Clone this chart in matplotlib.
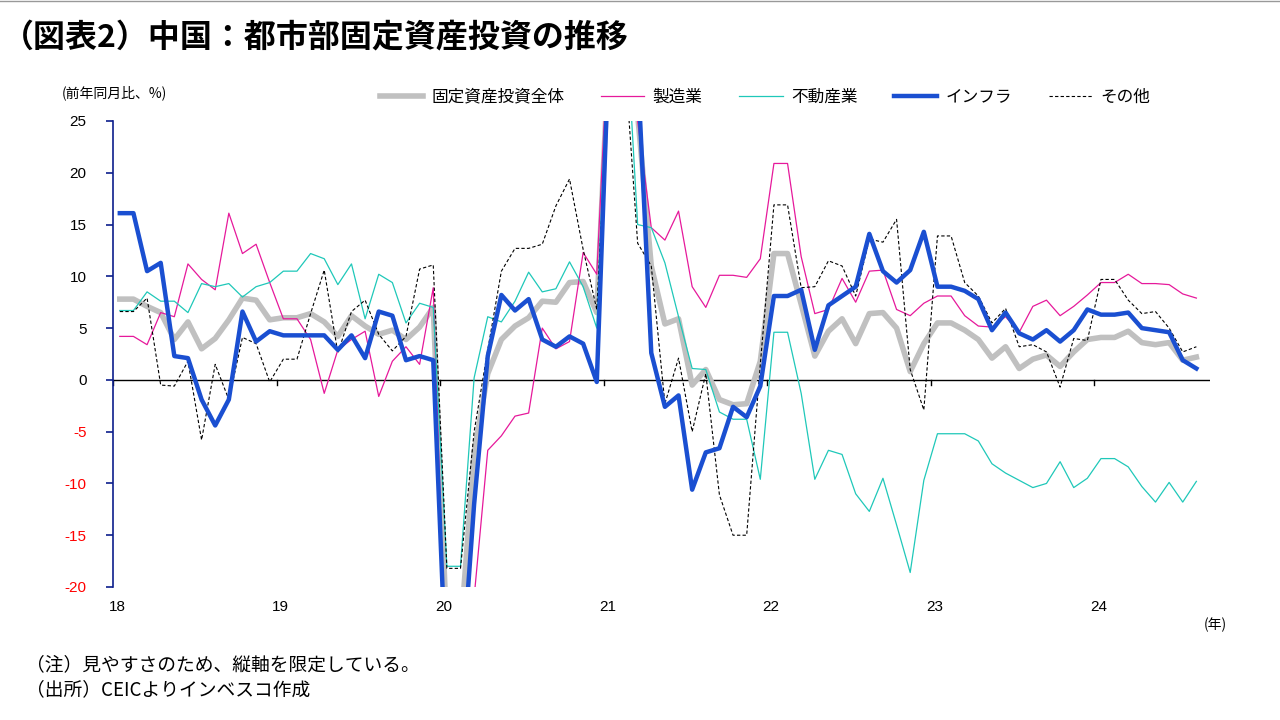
import matplotlib
matplotlib.use("Agg")
import matplotlib.pyplot as plt
import numpy as np

plt.rcParams['font.family'] = ['Noto Sans CJK JP']

year_labels = ["18", "19", "20", "21", "22", "23", "24"]
total = [7.8,7.8,7.1,6.5,3.9,5.6,3.0,4.0,5.8,7.9,7.7,5.8,
         6.0,6.0,6.4,5.6,4.2,6.2,5.2,4.4,4.8,3.9,5.1,7.0,
         -24.5,-24.5,-7.0,0.6,3.9,5.2,6.0,7.6,7.5,9.4,9.5,6.5,
         35.0,35.0,25.6,11.0,5.4,5.9,-0.5,1.0,-1.9,-2.4,-2.3,1.8,
         12.2,12.2,7.3,2.3,4.7,5.9,3.5,6.4,6.5,5.0,0.8,3.5,
         5.5,5.5,4.8,3.9,2.1,3.2,1.1,2.0,2.4,1.3,2.7,3.9,
         4.1,4.1,4.7,3.6,3.4,3.6,1.9,2.2]
manuf = [4.2,4.2,3.4,6.5,6.1,11.2,9.7,8.7,16.1,12.2,13.1,9.4,
         5.9,5.9,3.9,-1.3,2.9,3.9,4.7,-1.6,1.8,3.2,1.5,8.9,
         -31.5,-31.5,-21.0,-6.8,-5.4,-3.5,-3.2,5.0,3.0,3.7,12.3,10.2,
         37.0,37.0,25.0,14.7,13.5,16.3,9.0,7.0,10.1,10.1,9.9,11.7,
         20.9,20.9,11.9,6.4,6.8,9.8,7.5,10.5,10.6,6.8,6.2,7.4,
         8.1,8.1,6.2,5.2,5.1,6.1,4.6,7.1,7.7,6.2,7.1,8.2,
         9.4,9.4,10.2,9.3,9.3,9.2,8.3,7.9]
realestate = [6.7,6.7,8.5,7.6,7.6,6.5,9.3,9.0,9.3,8.0,9.0,9.4,
              10.5,10.5,12.2,11.7,9.2,11.2,5.9,10.2,9.4,5.5,7.4,7.0,
              -18.0,-18.0,0.2,6.1,5.6,7.6,10.4,8.5,8.8,11.4,9.0,5.0,
              38.0,38.0,15.0,14.7,11.3,6.1,1.1,1.0,-3.1,-3.8,-3.8,-9.6,
              4.6,4.6,-1.3,-9.6,-6.8,-7.2,-11.0,-12.7,-9.5,-14.0,-18.6,-9.7,
              -5.2,-5.2,-5.2,-5.9,-8.1,-9.0,-9.7,-10.4,-10.0,-7.9,-10.4,-9.5,
              -7.6,-7.6,-8.4,-10.3,-11.8,-9.9,-11.8,-9.8]
infra = [16.1,16.1,10.5,11.3,2.3,2.1,-1.9,-4.4,-1.9,6.6,3.7,4.7,
         4.3,4.3,4.3,4.3,2.9,4.3,2.1,6.6,6.2,1.9,2.3,1.9,
         -30.3,-30.3,-12.0,2.3,8.2,6.7,7.8,3.9,3.2,4.2,3.5,-0.2,
         36.0,36.0,30.0,2.6,-2.6,-1.5,-10.6,-7.0,-6.6,-2.6,-3.6,-0.6,
         8.1,8.1,8.7,2.9,7.2,8.1,9.0,14.1,10.5,9.4,10.6,14.3,
         9.0,9.0,8.6,7.8,4.8,6.5,4.5,3.9,4.8,3.7,4.8,6.8,
         6.3,6.3,6.5,5.0,4.8,4.6,1.9,1.1]
other = [6.6,6.6,7.9,-0.5,-0.6,1.8,-5.8,1.5,-1.9,4.1,3.5,-0.2,
         2.0,2.0,6.4,10.6,2.6,6.6,7.7,4.4,2.8,4.2,10.7,11.1,
         -18.2,-18.2,-5.0,2.9,10.5,12.7,12.7,13.1,16.8,19.4,12.6,6.8,
         32.0,32.0,13.2,11.0,-2.3,2.1,-5.0,0.6,-11.1,-15.0,-15.0,1.5,
         16.9,16.9,8.9,9.0,11.5,11.0,8.1,13.6,13.3,15.5,1.0,-2.9,
         13.9,13.9,9.4,8.1,5.5,6.9,3.2,3.4,2.7,-0.7,4.0,3.8,
         9.7,9.7,7.7,6.4,6.6,5.0,2.7,3.2]

x = np.arange(len(total)) + 0.5

fig = plt.figure(figsize=(12.8, 7.2), dpi=100)
ax = fig.add_axes([113/1280, 1-587/720, (1210-113)/1280, (587-121)/720])
ax.plot(x, total, color='#c0c0c0', lw=4, label='固定資産投資全体', zorder=2)
ax.plot(x, manuf, color='#e6199b', lw=0.9, label='製造業', zorder=3)
ax.plot(x, realestate, color='#1fc8b9', lw=0.9, label='不動産業', zorder=3)
ax.plot(x, infra, color='#1a4fd1', lw=3.2, label='インフラ', zorder=5)
ax.plot(x, other, color='black', lw=0.8, ls=(0, (3, 2)), label='その他', zorder=4)
ax.axhline(0, color='black', lw=1, zorder=1)

ax.set_ylim(-20, 25)
ax.set_xlim(0, 80.5)
ax.set_yticks(range(-20, 26, 5))
ax.set_yticklabels([str(v) for v in range(-20, 26, 5)], fontsize=11, fontfamily='Liberation Sans')
ax.tick_params(axis='y', colors='#0d1f8c', length=5, width=1.2, pad=14)
for lab, v in zip(ax.get_yticklabels(), range(-20, 26, 5)):
    lab.set_color('red' if v < 0 else 'black')
ax.set_xticks([])
for k, yl in enumerate(year_labels):
    ax.plot([12*k, 12*k], [0, -0.5], color='black', lw=1, clip_on=False)
    ax.text(12*k + 0.3, -21.3, yl, ha='center', va='top', fontsize=11, fontfamily='Liberation Sans')
for s in ['top', 'right', 'bottom']:
    ax.spines[s].set_visible(False)
ax.spines['left'].set_color('#0d1f8c')
ax.spines['left'].set_linewidth(1.2)

fig.text(2/1280, 1-38/720, '（図表2）中国：都市部固定資産投資の推移', fontsize=23, fontweight='bold', va='center')
fig.add_artist(plt.Line2D([0, 1], [1-1/720, 1-1/720], color='#999999', lw=1))
fig.text(62/1280, 1-93/720, '(前年同月比、%)', fontsize=10, va='center')
fig.text(1215/1280, 1-625/720, '(年)', fontsize=10, va='center', ha='center')
fig.text(26/1280, 1-665/720, '（注）見やすさのため、縦軸を限定している。', fontsize=13.5, va='center')
fig.text(26/1280, 1-690/720, '（出所）CEICよりインベスコ作成', fontsize=13.5, va='center')
fig.legend(loc='center', bbox_to_anchor=(765/1280, 1-97/720), ncol=5, frameon=False,
           fontsize=12, handlelength=2.6, columnspacing=2.2, handletextpad=0.5)
fig.savefig('out.png', dpi=100)
